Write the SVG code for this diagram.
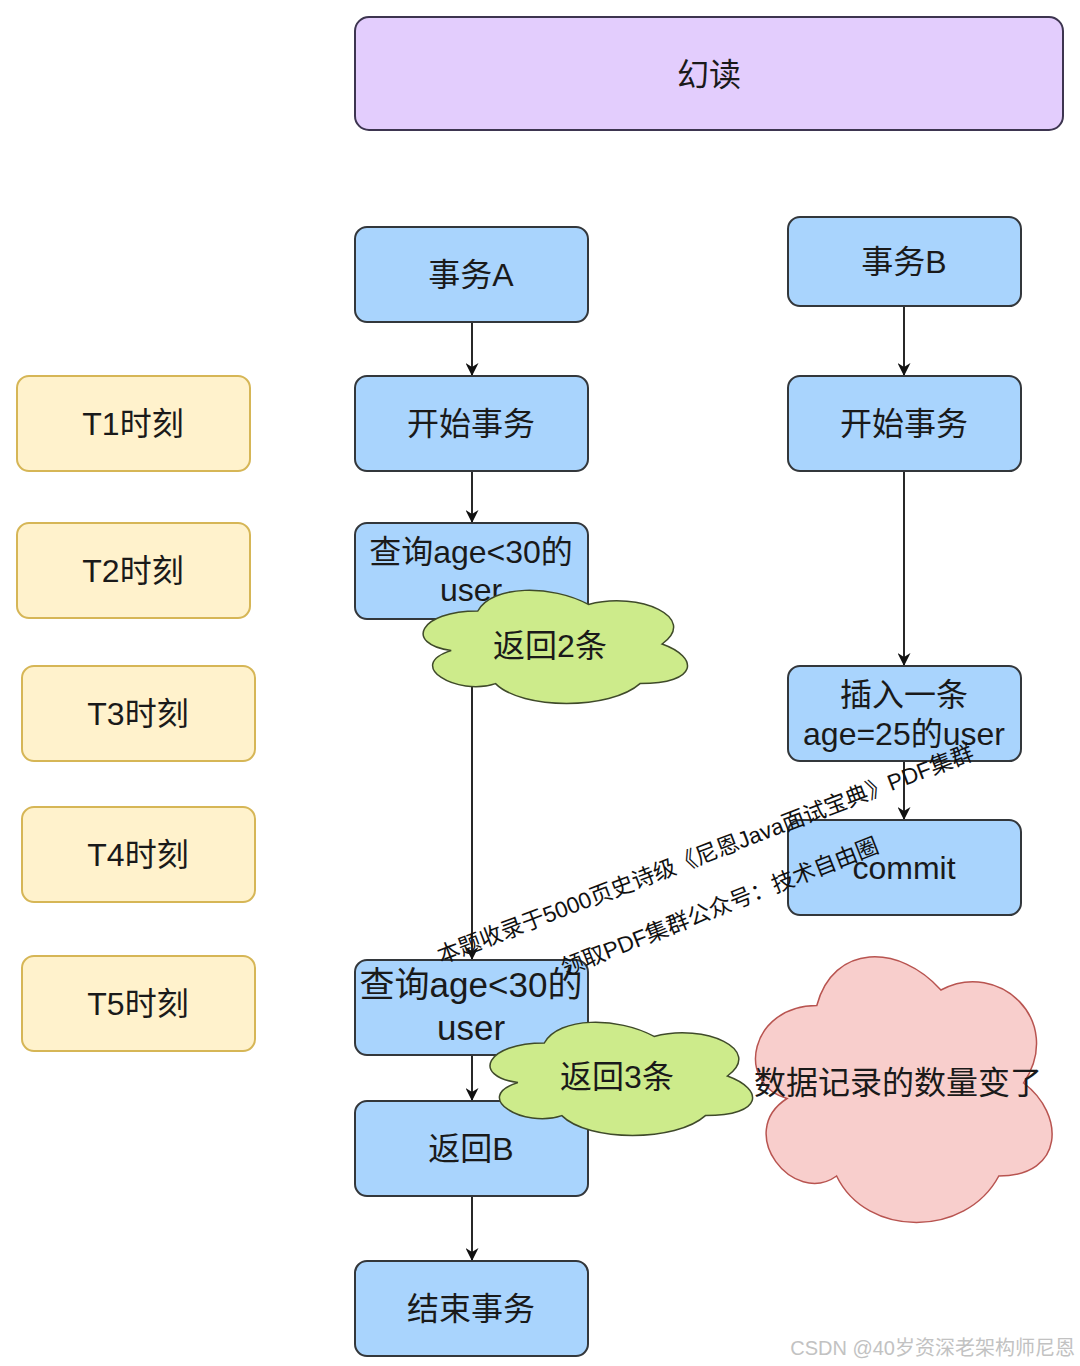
<svg xmlns="http://www.w3.org/2000/svg" width="1080" height="1366" viewBox="0 0 1080 1366">
<style>
text{font-family:"Liberation Sans","Noto Sans CJK SC",sans-serif;fill:#1a1a1a;text-anchor:middle}
.t32{font-size:32px}
.t35{font-size:35px}
.blue{fill:#a9d4fd;stroke:#33373b;stroke-width:2}
.yel{fill:#fff2cc;stroke:#d6b656;stroke-width:2}
.title{fill:#e3cdfd;stroke:#3d3550;stroke-width:2}
.green{fill:#cdeb8b;stroke:#3f4a2a;stroke-width:1.5}
.pink{fill:#f8cecc;stroke:#b85450;stroke-width:1.5}
.edge{stroke:#111;stroke-width:1.8;fill:none;marker-end:url(#arr)}
.wm{font-size:22.6px;text-anchor:start;fill:#111}
</style>
<defs>
<marker id="arr" viewBox="0 0 10 10" refX="10" refY="5" markerWidth="14" markerHeight="13" markerUnits="userSpaceOnUse" orient="auto">
<path d="M0,0 L10,5 L0,10 L3,5 Z" fill="#111"/>
</marker>
</defs>
<rect width="1080" height="1366" fill="#ffffff"/>
<g id="connectors">
<line class="edge" x1="472" y1="322" x2="472" y2="376"/>
<line class="edge" x1="472" y1="471" x2="472" y2="523"/>
<line class="edge" x1="472" y1="619" x2="472" y2="960"/>
<line class="edge" x1="472" y1="1055" x2="472" y2="1101"/>
<line class="edge" x1="472" y1="1196" x2="472" y2="1261"/>
<line class="edge" x1="904" y1="306" x2="904" y2="376"/>
<line class="edge" x1="904" y1="471" x2="904" y2="666"/>
<line class="edge" x1="904" y1="761" x2="904" y2="820"/>
</g>
<g id="title"><rect class="title" x="355" y="17" width="708" height="113" rx="14"/><text class="t32" x="709" y="86">幻读</text></g>
<g id="t1"><rect class="yel" x="17" y="376" width="233" height="95" rx="12"/><text class="t32" x="133" y="435">T1时刻</text></g>
<g id="t2"><rect class="yel" x="17" y="523" width="233" height="95" rx="12"/><text class="t32" x="133" y="582">T2时刻</text></g>
<g id="t3"><rect class="yel" x="22" y="666" width="233" height="95" rx="12"/><text class="t32" x="138" y="725">T3时刻</text></g>
<g id="t4"><rect class="yel" x="22" y="807" width="233" height="95" rx="12"/><text class="t32" x="138" y="866">T4时刻</text></g>
<g id="t5"><rect class="yel" x="22" y="956" width="233" height="95" rx="12"/><text class="t32" x="138" y="1015">T5时刻</text></g>
<g id="txA"><rect class="blue" x="355" y="227" width="233" height="95" rx="12"/><text class="t32" x="471" y="286">事务A</text></g>
<g id="beginA"><rect class="blue" x="355" y="376" width="233" height="95" rx="12"/><text class="t32" x="471" y="435">开始事务</text></g>
<g id="queryA1"><rect class="blue" x="355" y="523" width="233" height="96" rx="12"/><text class="t32" x="471" y="563">查询age&lt;30的</text><text class="t32" x="471" y="601">user</text></g>
<g id="queryA2"><rect class="blue" x="355" y="960" width="233" height="95" rx="12"/><text class="t35" x="471" y="997">查询age&lt;30的</text><text class="t35" x="471" y="1040">user</text></g>
<g id="returnB"><rect class="blue" x="355" y="1101" width="233" height="95" rx="12"/><text class="t32" x="471" y="1160">返回B</text></g>
<g id="endA"><rect class="blue" x="355" y="1261" width="233" height="95" rx="12"/><text class="t32" x="471" y="1320">结束事务</text></g>
<g id="txB"><rect class="blue" x="788" y="217" width="233" height="89" rx="12"/><text class="t32" x="904" y="273">事务B</text></g>
<g id="beginB"><rect class="blue" x="788" y="376" width="233" height="95" rx="12"/><text class="t32" x="904" y="435">开始事务</text></g>
<g id="insertB"><rect class="blue" x="788" y="666" width="233" height="95" rx="12"/><text class="t32" x="904" y="706">插入一条</text><text class="t32" x="904" y="745">age=25的user</text></g>
<g id="commitB"><rect class="blue" x="788" y="820" width="233" height="95" rx="12"/><text class="t32" x="904" y="879">commit</text></g>
<g id="cloud2rows">
<path class="green" d="M477.8,611 C418.8,611 404,644 451.2,650.6 C404,665.1 457.1,696.8 495.5,683.6 C522,710 610.5,710 640,683.6 C699,683.6 699,657.2 662.1,644 C699,617.6 640,591.2 588.4,604.4 C551.5,584.6 492.5,584.6 477.8,611 Z"/>
<text class="t32" x="550" y="657">返回2条</text>
</g>
<g id="cloud3rows">
<path class="green" d="M544.3,1043 C485.7,1043 471,1076 517.9,1082.6 C471,1097.1 523.7,1128.8 561.8,1115.6 C588.2,1142 676.1,1142 705.4,1115.6 C764,1115.6 764,1089.2 727.4,1076 C764,1049.6 705.4,1023.2 654.1,1036.4 C617.5,1016.6 558.9,1016.6 544.3,1043 Z"/>
<text class="t32" x="617" y="1088">返回3条</text>
</g>
<g id="cloudChanged">
<path class="pink" d="M816.8,1005.5 C750.6,1005.5 734,1083 787,1098.5 C734,1132.6 793.6,1207 836.6,1176 C866.4,1238 965.7,1238 998.8,1176 C1065,1176 1065,1114 1023.6,1083 C1065,1021 998.8,959 940.9,990 C899.5,943.5 833.3,943.5 816.8,1005.5 Z"/>
<text class="t32" x="898" y="1094">数据记录的数量变了</text>
</g>
<g id="watermark">
<text class="wm" transform="translate(441,964) rotate(-21)">本题收录于5000页史诗级《尼恩Java面试宝典》PDF集群</text>
<text class="wm" transform="translate(565,976) rotate(-21.5)">领取PDF集群公众号：技术自由圈</text>
</g>
<text x="1075" y="1355" style="font-size:20px;text-anchor:end;fill:#c2c2c2">CSDN @40岁资深老架构师尼恩</text>
</svg>
